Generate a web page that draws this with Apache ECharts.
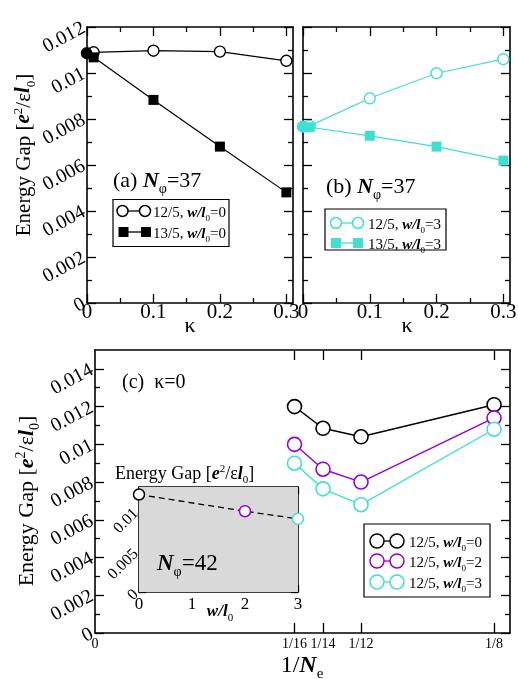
<!DOCTYPE html>
<html><head><meta charset="utf-8">
<script src="https://cdn.jsdelivr.net/npm/echarts@6/dist/echarts.min.js"></script>
<style>html,body{margin:0;padding:0;background:#fff}#c{width:518px;height:679px}</style>
</head><body><div id="c"></div>
<script>
// ---------------- data ----------------
const kappaA = [0, 0.01, 0.1, 0.2, 0.3];
const gapA_12_5_w0 = [0.01086, 0.0109, 0.01097, 0.01093, 0.01053];
const gapA_13_5_w0 = [0.01086, 0.01068, 0.00883, 0.0068, 0.00481];
const kappaB = [0, 0.01, 0.1, 0.2, 0.3];
const gapB_12_5_w3 = [0.00767, 0.0077, 0.0089, 0.00999, 0.0106];
const gapB_13_5_w3 = [0.00767, 0.00764, 0.00727, 0.0068, 0.00619];
const invNe = [1/16, 1/14, 1/12, 1/8];
const gapC_w0 = [0.0120, 0.01085, 0.0104, 0.0121];
const gapC_w2 = [0.0100, 0.00868, 0.0080, 0.0114];
const gapC_w3 = [0.0090, 0.00764, 0.0068, 0.0108];
const insetW = [0, 2, 3];
const insetGap = [0.01207, 0.0100, 0.00906];

// ticks
const kappaTicks = [0, 0.1, 0.2, 0.3];
const kappaTickLabels = ['0', '0.1', '0.2', '0.3'];
const kappaMinor = [0.05, 0.15, 0.25];
const gapABTicks = [0, 0.002, 0.004, 0.006, 0.008, 0.010, 0.012];
const gapABTickLabels = ['0', '0.002', '0.004', '0.006', '0.008', '0.01', '0.012'];
const gapABMinor = [0.001, 0.003, 0.005, 0.007, 0.009, 0.011];
const invNeTicks = [1/16, 1/14, 1/12, 1/8];
const invNeLabelValues = [0, 1/16, 1/14, 1/12, 1/8];
const invNeTickLabels = ['0', '1/16', '1/14', '1/12', '1/8'];
const gapCTicks = [0, 0.002, 0.004, 0.006, 0.008, 0.010, 0.012, 0.014];
const gapCTickLabels = ['0', '0.002', '0.004', '0.006', '0.008', '0.01', '0.012', '0.014'];
const gapCMinor = [0.001, 0.003, 0.005, 0.007, 0.009, 0.011, 0.013];
const insetWTicks = [0, 1, 2, 3];
const insetWTickLabels = ['0', '1', '2', '3'];
const insetWMinor = [0.5, 1.5, 2.5];
const insetGapTicks = [0, 0.005, 0.010];
const insetGapTickLabels = ['0', '0.005', '0.01'];
const insetGapMinor = [0.0025, 0.0075, 0.0125];

// ---------------- helpers ----------------
const FONT = 'Liberation Serif';
const CYAN = '#40e0d0';
const PURPLE = '#9400d3';

function lookup(values, labels) {
  return function (v) {
    let best = 0, d = Infinity;
    values.forEach((t, i) => { const e = Math.abs(t - v); if (e < d) { d = e; best = i; } });
    return labels[best];
  };
}

const xAxes = [], yAxes = [];
function addSide(list, gridIndex, pos, min, max, majors, minors, lab, tl, ml) {
  const base = { type: 'value', gridIndex: gridIndex, position: pos, min: min, max: max,
    splitLine: { show: false }, minorSplitLine: { show: false }, axisPointer: { show: false } };
  const idx = list.length;
  const ax = Object.assign({}, base, {
    axisLine: { show: true, onZero: false, lineStyle: { color: '#000', width: 1.6 } },
    axisTick: { show: true, inside: true, length: tl, customValues: majors, lineStyle: { color: '#000', width: 1.3 } },
    axisLabel: lab ? Object.assign({ show: true, color: '#000', fontFamily: FONT, hideOverlap: false }, lab) : { show: false }
  });
  list.push(ax);
  if (minors && minors.length) {
    list.push(Object.assign({}, base, {
      axisLine: { show: false, onZero: false },
      axisTick: { show: true, inside: true, length: ml, customValues: minors, lineStyle: { color: '#000', width: 1.3 } },
      axisLabel: { show: false }
    }));
  }
  return idx;
}

// grid 0: panel (a)
const ax_a_x = addSide(xAxes, 0, 'bottom', 0, 0.31, kappaTicks, kappaMinor,
  { customValues: kappaTicks, fontSize: 21, margin: -1, formatter: lookup(kappaTicks, kappaTickLabels) }, 9, 5);
addSide(xAxes, 0, 'top', 0, 0.31, kappaTicks, kappaMinor, null, 9, 5);
const ax_a_y = addSide(yAxes, 0, 'left', 0, 0.012, gapABTicks, gapABMinor,
  { customValues: gapABTicks, fontSize: 20, rotate: 28, margin: 3, formatter: lookup(gapABTicks, gapABTickLabels) }, 9, 5);
addSide(yAxes, 0, 'right', 0, 0.012, gapABTicks, gapABMinor, null, 9, 5);
// grid 1: panel (b)
const ax_b_x = addSide(xAxes, 1, 'bottom', 0, 0.31, kappaTicks, kappaMinor,
  { customValues: kappaTicks, fontSize: 21, margin: -1, formatter: lookup(kappaTicks, kappaTickLabels) }, 9, 5);
addSide(xAxes, 1, 'top', 0, 0.31, kappaTicks, kappaMinor, null, 9, 5);
const ax_b_y = addSide(yAxes, 1, 'left', 0, 0.012, gapABTicks, gapABMinor, null, 9, 5);
addSide(yAxes, 1, 'right', 0, 0.012, gapABTicks, gapABMinor, null, 9, 5);
// grid 2: panel (c)
const ax_c_x = addSide(xAxes, 2, 'bottom', 0, 0.13, invNeTicks, null,
  { customValues: invNeLabelValues, fontSize: 14, margin: 4, formatter: lookup(invNeLabelValues, invNeTickLabels) }, 10, 5);
addSide(xAxes, 2, 'top', 0, 0.13, invNeTicks, null, null, 10, 5);
const ax_c_y = addSide(yAxes, 2, 'left', 0, 0.015, gapCTicks, gapCMinor,
  { customValues: gapCTicks, fontSize: 20, rotate: 28, margin: 3, formatter: lookup(gapCTicks, gapCTickLabels) }, 9, 5);
addSide(yAxes, 2, 'right', 0, 0.015, gapCTicks, gapCMinor, null, 9, 5);
// grid 3: inset
const ax_i_x = addSide(xAxes, 3, 'bottom', 0, 3, insetWTicks, insetWMinor,
  { customValues: insetWTicks, fontSize: 17, margin: 4, formatter: lookup(insetWTicks, insetWTickLabels) }, 7, 4);
addSide(xAxes, 3, 'top', 0, 3, insetWTicks, insetWMinor, null, 7, 4);
const ax_i_y = addSide(yAxes, 3, 'left', 0, 0.013, insetGapTicks, insetGapMinor,
  { customValues: insetGapTicks, fontSize: 16, rotate: 45, margin: 3, formatter: lookup(insetGapTicks, insetGapTickLabels) }, 7, 4);
addSide(yAxes, 3, 'right', 0, 0.013, insetGapTicks, insetGapMinor, null, 7, 4);

function pairs(xs, ys) { return xs.map((x, i) => [x, ys[i]]); }

function openSeries(xi, yi, xs, ys, color, size, lw) {
  return { type: 'line', xAxisIndex: xi, yAxisIndex: yi, data: pairs(xs, ys), clip: false,
    symbol: 'circle', symbolSize: size, showAllSymbol: true,
    lineStyle: { color: color, width: lw },
    itemStyle: { color: '#fff', borderColor: color, borderWidth: lw + 0.2 }, z: 5 };
}
function filledSeries(xi, yi, xs, ys, color, size, lw) {
  const d = pairs(xs, ys).map((p, i) => i === 0 ? { value: p, symbol: 'circle', symbolSize: size + 1 } : p);
  return { type: 'line', xAxisIndex: xi, yAxisIndex: yi, data: d, clip: false,
    symbol: 'rect', symbolSize: size, showAllSymbol: true,
    lineStyle: { color: color, width: lw },
    itemStyle: { color: color }, z: 6 };
}

const insetColors = ['#000', PURPLE, CYAN];
const series = [
  openSeries(ax_a_x, ax_a_y, kappaA, gapA_12_5_w0, '#000', 11, 1.2),
  filledSeries(ax_a_x, ax_a_y, kappaA, gapA_13_5_w0, '#000', 10, 1.2),
  openSeries(ax_b_x, ax_b_y, kappaB, gapB_12_5_w3, CYAN, 11, 1.2),
  filledSeries(ax_b_x, ax_b_y, kappaB, gapB_13_5_w3, CYAN, 10, 1.2),
  openSeries(ax_c_x, ax_c_y, invNe, gapC_w0, '#000', 14, 1.4),
  openSeries(ax_c_x, ax_c_y, invNe, gapC_w2, PURPLE, 14, 1.4),
  openSeries(ax_c_x, ax_c_y, invNe, gapC_w3, CYAN, 14, 1.4),
  { type: 'line', xAxisIndex: ax_i_x, yAxisIndex: ax_i_y, clip: false, z: 8,
    data: pairs(insetW, insetGap).map((p, i) => ({ value: p, itemStyle: { color: '#fff', borderColor: insetColors[i], borderWidth: 1.5 } })),
    symbol: 'circle', symbolSize: 11, showAllSymbol: true,
    lineStyle: { color: '#000', width: 1.3, type: [6, 4] } }
];

// rich text styles
function rich(size) {
  const s = Math.round(size * 0.62);
  return {
    n: { fontFamily: FONT, fontSize: size, color: '#000' },
    bi: { fontFamily: FONT, fontSize: size, fontStyle: 'italic', fontWeight: 'bold', color: '#000' },
    sub: { fontFamily: FONT, fontSize: s, padding: [Math.round(size * 0.72), 0, 0, 0], color: '#000' },
    sup: { fontFamily: FONT, fontSize: s, padding: [0, 0, Math.round(size * 0.5), 0], color: '#000' }
  };
}
function txt(x, y, text, size, align, rot) {
  return { type: 'text', x: x, y: y, rotation: rot || 0, z: 100,
    style: { text: text, rich: rich(size), align: align || 'left', verticalAlign: 'middle', fontFamily: FONT, fontSize: size, fill: '#000' } };
}
const GAPLABEL = '{n|Energy Gap [}{bi|e}{sup|2}{n|/ε}{bi|l}{sub|0}{n|]}';

function legendBox(x, y, w, h) {
  return { type: 'rect', z: 90, shape: { x: x, y: y, width: w, height: h }, style: { fill: '#fff', stroke: '#000', lineWidth: 1.2 } };
}
function legendRow(x1, x2, y, kind, color, sz, textX, label, fs) {
  const els = [{ type: 'line', z: 91, shape: { x1: x1, y1: y, x2: x2, y2: y }, style: { stroke: color, lineWidth: 1.3 } }];
  [x1, x2].forEach(cx => {
    if (kind === 'circle') els.push({ type: 'circle', z: 92, shape: { cx: cx, cy: y, r: sz / 2 }, style: { fill: '#fff', stroke: color, lineWidth: 1.5 } });
    else els.push({ type: 'rect', z: 92, shape: { x: cx - sz / 2, y: y - sz / 2, width: sz, height: sz }, style: { fill: color } });
  });
  els.push(txt(textX, y + 2, label, fs, 'left'));
  return els;
}

const graphics = [].concat(
  [txt(24, 155, GAPLABEL, 21, 'center', Math.PI / 2),
   txt(27, 501, GAPLABEL, 22, 'center', Math.PI / 2),
   txt(190, 326, '{n|κ}', 22, 'center'),
   txt(407, 326, '{n|κ}', 22, 'center'),
   txt(302, 666, '{n|1/}{bi|N}{sub|e}', 24, 'center'),
   txt(113, 181, '{n|(a) }{bi|N}{sub|φ}{n|=37}', 22, 'left'),
   txt(326, 187, '{n|(b) }{bi|N}{sub|φ}{n|=37}', 22, 'left'),
   txt(122, 383, '{n|(c)  κ=0}', 20, 'left'),
   txt(115, 474, GAPLABEL, 18, 'left'),
   txt(157, 564, '{bi|N}{sub|φ}{n|=42}', 23, 'left'),
   txt(220, 612, '{bi|w/l}{sub|0}', 17, 'center'),
   legendBox(113, 199.5, 116, 47),
   legendBox(325, 209, 121, 41),
   legendBox(364, 524, 126, 73)],
  legendRow(122.5, 145, 211, 'circle', '#000', 11, 153, '{n|12/5, }{bi|w/l}{sub|0}{n|=0}', 15),
  legendRow(123.5, 146, 232, 'rect', '#000', 10, 153, '{n|13/5, }{bi|w/l}{sub|0}{n|=0}', 15),
  legendRow(336, 358, 223, 'circle', CYAN, 11, 368, '{n|12/5, }{bi|w/l}{sub|0}{n|=3}', 15),
  legendRow(336, 358, 243, 'rect', CYAN, 10, 368, '{n|13/5, }{bi|w/l}{sub|0}{n|=3}', 15),
  legendRow(377, 397, 541, 'circle', '#000', 14, 409, '{n|12/5, }{bi|w/l}{sub|0}{n|=0}', 15),
  legendRow(377, 397, 561, 'circle', PURPLE, 14, 409, '{n|12/5, }{bi|w/l}{sub|0}{n|=2}', 15),
  legendRow(377, 397, 582, 'circle', CYAN, 14, 409, '{n|12/5, }{bi|w/l}{sub|0}{n|=3}', 15)
);

const chart = echarts.init(document.getElementById('c'));
chart.setOption({
  animation: false,
  backgroundColor: '#fff',
  textStyle: { fontFamily: FONT },
  grid: [
    { left: 87, top: 27, width: 206, height: 276, outerBoundsMode: 'none', containLabel: false },
    { left: 303, top: 27, width: 207, height: 276, outerBoundsMode: 'none', containLabel: false },
    { left: 95, top: 350, width: 415, height: 283, outerBoundsMode: 'none', containLabel: false },
    { left: 139, top: 487, width: 159, height: 105, outerBoundsMode: 'none', containLabel: false,
      show: true, backgroundColor: '#d9d9d9', borderWidth: 0, z: 3 }
  ],
  xAxis: xAxes,
  yAxis: yAxes,
  series: series,
  graphic: graphics
});
</script></body></html>
